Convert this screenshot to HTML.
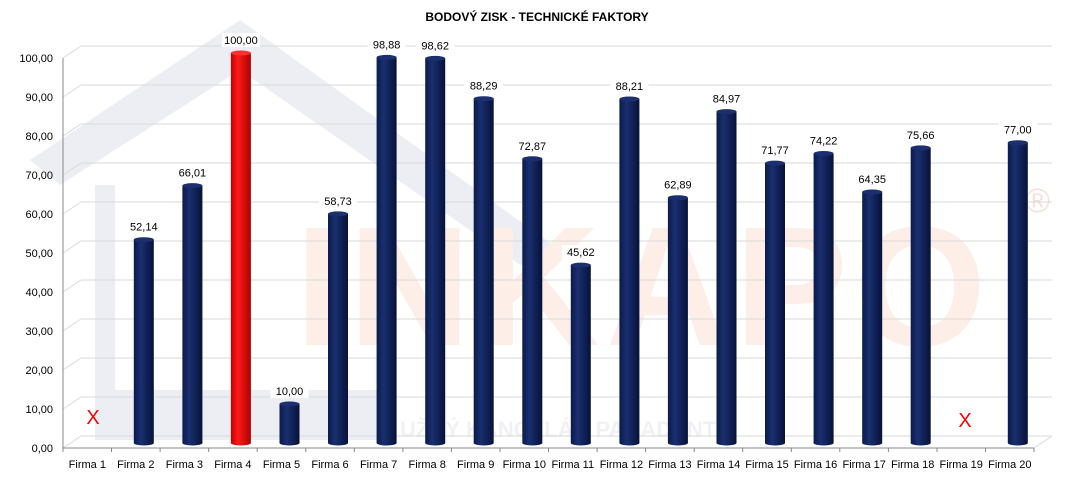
<!DOCTYPE html>
<html><head><meta charset="utf-8"><style>
body{margin:0;background:#fff;}
svg{display:block;font-family:"Liberation Sans",sans-serif;}
</style></head><body>
<svg width="1067" height="477" viewBox="0 0 1067 477" xmlns="http://www.w3.org/2000/svg">
<defs>
<linearGradient id="nb" x1="0" x2="1" y1="0" y2="0">
<stop offset="0" stop-color="#0a1a4a"/><stop offset="0.35" stop-color="#1a2f70"/><stop offset="1" stop-color="#06123a"/>
</linearGradient>
<linearGradient id="rb" x1="0" x2="1" y1="0" y2="0">
<stop offset="0" stop-color="#c00000"/><stop offset="0.35" stop-color="#ff1a1a"/><stop offset="1" stop-color="#b00000"/>
</linearGradient>
</defs>
<polygon points="30,160 240,20 560,250 520,265 240,70 60,185" fill="#eceef3"/>
<rect x="95" y="185" width="20" height="255" fill="#eceef3"/>
<rect x="95" y="390" width="300" height="50" fill="#eceef3"/>
<text x="295" y="345" font-size="170" font-weight="bold" fill="#fdeee8" letter-spacing="6">INKAPO</text>
<text x="400" y="437" font-size="22" font-weight="bold" fill="#f1f1f4">UŽNÝ KANCELÁŘ PARADENTV</text>
<text x="1025" y="212" font-size="34" fill="#f8e0d8">®</text>
<text x="537" y="21" font-size="12" font-weight="bold" text-anchor="middle" fill="#000">BODOVÝ ZISK -  TECHNICKÉ FAKTORY</text>
<g stroke="#d9d9d9" stroke-width="1" fill="none">
<line x1="81" y1="46" x2="1052" y2="46"/><line x1="63" y1="58" x2="81" y2="46"/>
<line x1="81" y1="85" x2="1052" y2="85"/><line x1="63" y1="97" x2="81" y2="85"/>
<line x1="81" y1="124" x2="1052" y2="124"/><line x1="63" y1="136" x2="81" y2="124"/>
<line x1="81" y1="163" x2="1052" y2="163"/><line x1="63" y1="175" x2="81" y2="163"/>
<line x1="81" y1="202" x2="1052" y2="202"/><line x1="63" y1="214" x2="81" y2="202"/>
<line x1="81" y1="241" x2="1052" y2="241"/><line x1="63" y1="253" x2="81" y2="241"/>
<line x1="81" y1="280" x2="1052" y2="280"/><line x1="63" y1="292" x2="81" y2="280"/>
<line x1="81" y1="319" x2="1052" y2="319"/><line x1="63" y1="331" x2="81" y2="319"/>
<line x1="81" y1="358" x2="1052" y2="358"/><line x1="63" y1="370" x2="81" y2="358"/>
<line x1="81" y1="397" x2="1052" y2="397"/><line x1="63" y1="409" x2="81" y2="397"/>
<line x1="81" y1="436" x2="1052" y2="436"/><line x1="63" y1="448" x2="81" y2="436"/>
<line x1="1034" y1="448" x2="1052" y2="436"/>
</g>
<g stroke="#888" stroke-width="1">
<line x1="63" y1="58" x2="63" y2="452"/><line x1="63" y1="448" x2="1034" y2="448"/>
<line x1="111.5" y1="448" x2="111.5" y2="452"/><line x1="160.1" y1="448" x2="160.1" y2="452"/>
<line x1="208.7" y1="448" x2="208.7" y2="452"/><line x1="257.2" y1="448" x2="257.2" y2="452"/>
<line x1="305.8" y1="448" x2="305.8" y2="452"/><line x1="354.3" y1="448" x2="354.3" y2="452"/>
<line x1="402.9" y1="448" x2="402.9" y2="452"/><line x1="451.4" y1="448" x2="451.4" y2="452"/>
<line x1="500" y1="448" x2="500" y2="452"/><line x1="548.5" y1="448" x2="548.5" y2="452"/>
<line x1="597.1" y1="448" x2="597.1" y2="452"/><line x1="645.6" y1="448" x2="645.6" y2="452"/>
<line x1="694.2" y1="448" x2="694.2" y2="452"/><line x1="742.7" y1="448" x2="742.7" y2="452"/>
<line x1="791.3" y1="448" x2="791.3" y2="452"/><line x1="839.8" y1="448" x2="839.8" y2="452"/>
<line x1="888.4" y1="448" x2="888.4" y2="452"/><line x1="937" y1="448" x2="937" y2="452"/>
<line x1="985.5" y1="448" x2="985.5" y2="452"/><line x1="1034" y1="448" x2="1034" y2="452"/>
</g>
<g font-size="11" fill="#000" text-anchor="end">
<text x="53" y="62">100,00</text><text x="53" y="101">90,00</text><text x="53" y="140">80,00</text>
<text x="53" y="179">70,00</text><text x="53" y="218">60,00</text><text x="53" y="257">50,00</text>
<text x="53" y="296">40,00</text><text x="53" y="335">30,00</text><text x="53" y="374">20,00</text>
<text x="53" y="413">10,00</text><text x="53" y="452">0,00</text>
</g>
<g font-size="11" fill="#000" text-anchor="middle">
<text x="87.3" y="468">Firma 1</text><text x="135.8" y="468">Firma 2</text><text x="184.4" y="468">Firma 3</text>
<text x="232.9" y="468">Firma 4</text><text x="281.5" y="468">Firma 5</text><text x="330" y="468">Firma 6</text>
<text x="378.6" y="468">Firma 7</text><text x="427.2" y="468">Firma 8</text><text x="475.7" y="468">Firma 9</text>
<text x="524.3" y="468">Firma 10</text><text x="572.8" y="468">Firma 11</text><text x="621.4" y="468">Firma 12</text>
<text x="669.9" y="468">Firma 13</text><text x="718.5" y="468">Firma 14</text><text x="767" y="468">Firma 15</text>
<text x="815.6" y="468">Firma 16</text><text x="864.2" y="468">Firma 17</text><text x="912.7" y="468">Firma 18</text>
<text x="961.2" y="468">Firma 19</text><text x="1009.8" y="468">Firma 20</text>
</g>
<g font-size="11" fill="#000" text-anchor="middle">
<g transform="translate(143.8,0)"><rect x="-10" y="239.7" width="20" height="203.3" fill="url(#nb)"/><ellipse cy="443" rx="10" ry="2.5" fill="url(#nb)"/><ellipse cy="239.7" rx="10" ry="2.5" fill="#1c2f6e"/><rect x="-19" y="219.7" width="38" height="14" fill="#fff"/><text y="230.7">52,14</text></g>
<g transform="translate(192.4,0)"><rect x="-10" y="185.6" width="20" height="257.4" fill="url(#nb)"/><ellipse cy="443" rx="10" ry="2.5" fill="url(#nb)"/><ellipse cy="185.6" rx="10" ry="2.5" fill="#1c2f6e"/><rect x="-19" y="165.6" width="38" height="14" fill="#fff"/><text y="176.6">66,01</text></g>
<g transform="translate(240.9,0)"><rect x="-10" y="53" width="20" height="390" fill="url(#rb)"/><ellipse cy="443" rx="10" ry="2.5" fill="url(#rb)"/><ellipse cy="53" rx="10" ry="2.5" fill="#ff3030"/><rect x="-19" y="33" width="38" height="14" fill="#fff"/><text y="44">100,00</text></g>
<g transform="translate(289.5,0)"><rect x="-10" y="404" width="20" height="39" fill="url(#nb)"/><ellipse cy="443" rx="10" ry="2.5" fill="url(#nb)"/><ellipse cy="404" rx="10" ry="2.5" fill="#1c2f6e"/><rect x="-19" y="384" width="38" height="14" fill="#fff"/><text y="395">10,00</text></g>
<g transform="translate(338,0)"><rect x="-10" y="213.9" width="20" height="229.1" fill="url(#nb)"/><ellipse cy="443" rx="10" ry="2.5" fill="url(#nb)"/><ellipse cy="213.9" rx="10" ry="2.5" fill="#1c2f6e"/><rect x="-19" y="193.9" width="38" height="14" fill="#fff"/><text y="204.9">58,73</text></g>
<g transform="translate(386.6,0)"><rect x="-10" y="57.4" width="20" height="385.6" fill="url(#nb)"/><ellipse cy="443" rx="10" ry="2.5" fill="url(#nb)"/><ellipse cy="57.4" rx="10" ry="2.5" fill="#1c2f6e"/><rect x="-19" y="37.4" width="38" height="14" fill="#fff"/><text y="48.4">98,88</text></g>
<g transform="translate(435.2,0)"><rect x="-10" y="58.4" width="20" height="384.6" fill="url(#nb)"/><ellipse cy="443" rx="10" ry="2.5" fill="url(#nb)"/><ellipse cy="58.4" rx="10" ry="2.5" fill="#1c2f6e"/><rect x="-19" y="38.4" width="38" height="14" fill="#fff"/><text y="49.4">98,62</text></g>
<g transform="translate(483.7,0)"><rect x="-10" y="98.7" width="20" height="344.3" fill="url(#nb)"/><ellipse cy="443" rx="10" ry="2.5" fill="url(#nb)"/><ellipse cy="98.7" rx="10" ry="2.5" fill="#1c2f6e"/><rect x="-19" y="78.7" width="38" height="14" fill="#fff"/><text y="89.7">88,29</text></g>
<g transform="translate(532.3,0)"><rect x="-10" y="158.8" width="20" height="284.2" fill="url(#nb)"/><ellipse cy="443" rx="10" ry="2.5" fill="url(#nb)"/><ellipse cy="158.8" rx="10" ry="2.5" fill="#1c2f6e"/><rect x="-19" y="138.8" width="38" height="14" fill="#fff"/><text y="149.8">72,87</text></g>
<g transform="translate(580.8,0)"><rect x="-10" y="265.1" width="20" height="177.9" fill="url(#nb)"/><ellipse cy="443" rx="10" ry="2.5" fill="url(#nb)"/><ellipse cy="265.1" rx="10" ry="2.5" fill="#1c2f6e"/><rect x="-19" y="245.1" width="38" height="14" fill="#fff"/><text y="256.1">45,62</text></g>
<g transform="translate(629.4,0)"><rect x="-10" y="99" width="20" height="344" fill="url(#nb)"/><ellipse cy="443" rx="10" ry="2.5" fill="url(#nb)"/><ellipse cy="99" rx="10" ry="2.5" fill="#1c2f6e"/><rect x="-19" y="79" width="38" height="14" fill="#fff"/><text y="90">88,21</text></g>
<g transform="translate(677.9,0)"><rect x="-10" y="197.7" width="20" height="245.3" fill="url(#nb)"/><ellipse cy="443" rx="10" ry="2.5" fill="url(#nb)"/><ellipse cy="197.7" rx="10" ry="2.5" fill="#1c2f6e"/><rect x="-19" y="177.7" width="38" height="14" fill="#fff"/><text y="188.7">62,89</text></g>
<g transform="translate(726.5,0)"><rect x="-10" y="111.6" width="20" height="331.4" fill="url(#nb)"/><ellipse cy="443" rx="10" ry="2.5" fill="url(#nb)"/><ellipse cy="111.6" rx="10" ry="2.5" fill="#1c2f6e"/><rect x="-19" y="91.6" width="38" height="14" fill="#fff"/><text y="102.6">84,97</text></g>
<g transform="translate(775,0)"><rect x="-10" y="163.1" width="20" height="279.9" fill="url(#nb)"/><ellipse cy="443" rx="10" ry="2.5" fill="url(#nb)"/><ellipse cy="163.1" rx="10" ry="2.5" fill="#1c2f6e"/><rect x="-19" y="143.1" width="38" height="14" fill="#fff"/><text y="154.1">71,77</text></g>
<g transform="translate(823.6,0)"><rect x="-10" y="153.5" width="20" height="289.5" fill="url(#nb)"/><ellipse cy="443" rx="10" ry="2.5" fill="url(#nb)"/><ellipse cy="153.5" rx="10" ry="2.5" fill="#1c2f6e"/><rect x="-19" y="133.5" width="38" height="14" fill="#fff"/><text y="144.5">74,22</text></g>
<g transform="translate(872.2,0)"><rect x="-10" y="192" width="20" height="251" fill="url(#nb)"/><ellipse cy="443" rx="10" ry="2.5" fill="url(#nb)"/><ellipse cy="192" rx="10" ry="2.5" fill="#1c2f6e"/><rect x="-19" y="172" width="38" height="14" fill="#fff"/><text y="183">64,35</text></g>
<g transform="translate(920.7,0)"><rect x="-10" y="147.9" width="20" height="295.1" fill="url(#nb)"/><ellipse cy="443" rx="10" ry="2.5" fill="url(#nb)"/><ellipse cy="147.9" rx="10" ry="2.5" fill="#1c2f6e"/><rect x="-19" y="127.9" width="38" height="14" fill="#fff"/><text y="138.9">75,66</text></g>
<g transform="translate(1017.8,0)"><rect x="-10" y="142.7" width="20" height="300.3" fill="url(#nb)"/><ellipse cy="443" rx="10" ry="2.5" fill="url(#nb)"/><ellipse cy="142.7" rx="10" ry="2.5" fill="#1c2f6e"/><rect x="-19" y="122.7" width="38" height="14" fill="#fff"/><text y="133.7">77,00</text></g>
</g>
<text x="93" y="424" font-size="20" fill="#f00" text-anchor="middle">X</text>
<text x="965" y="427" font-size="20" fill="#f00" text-anchor="middle">X</text>
</svg>
</body></html>
